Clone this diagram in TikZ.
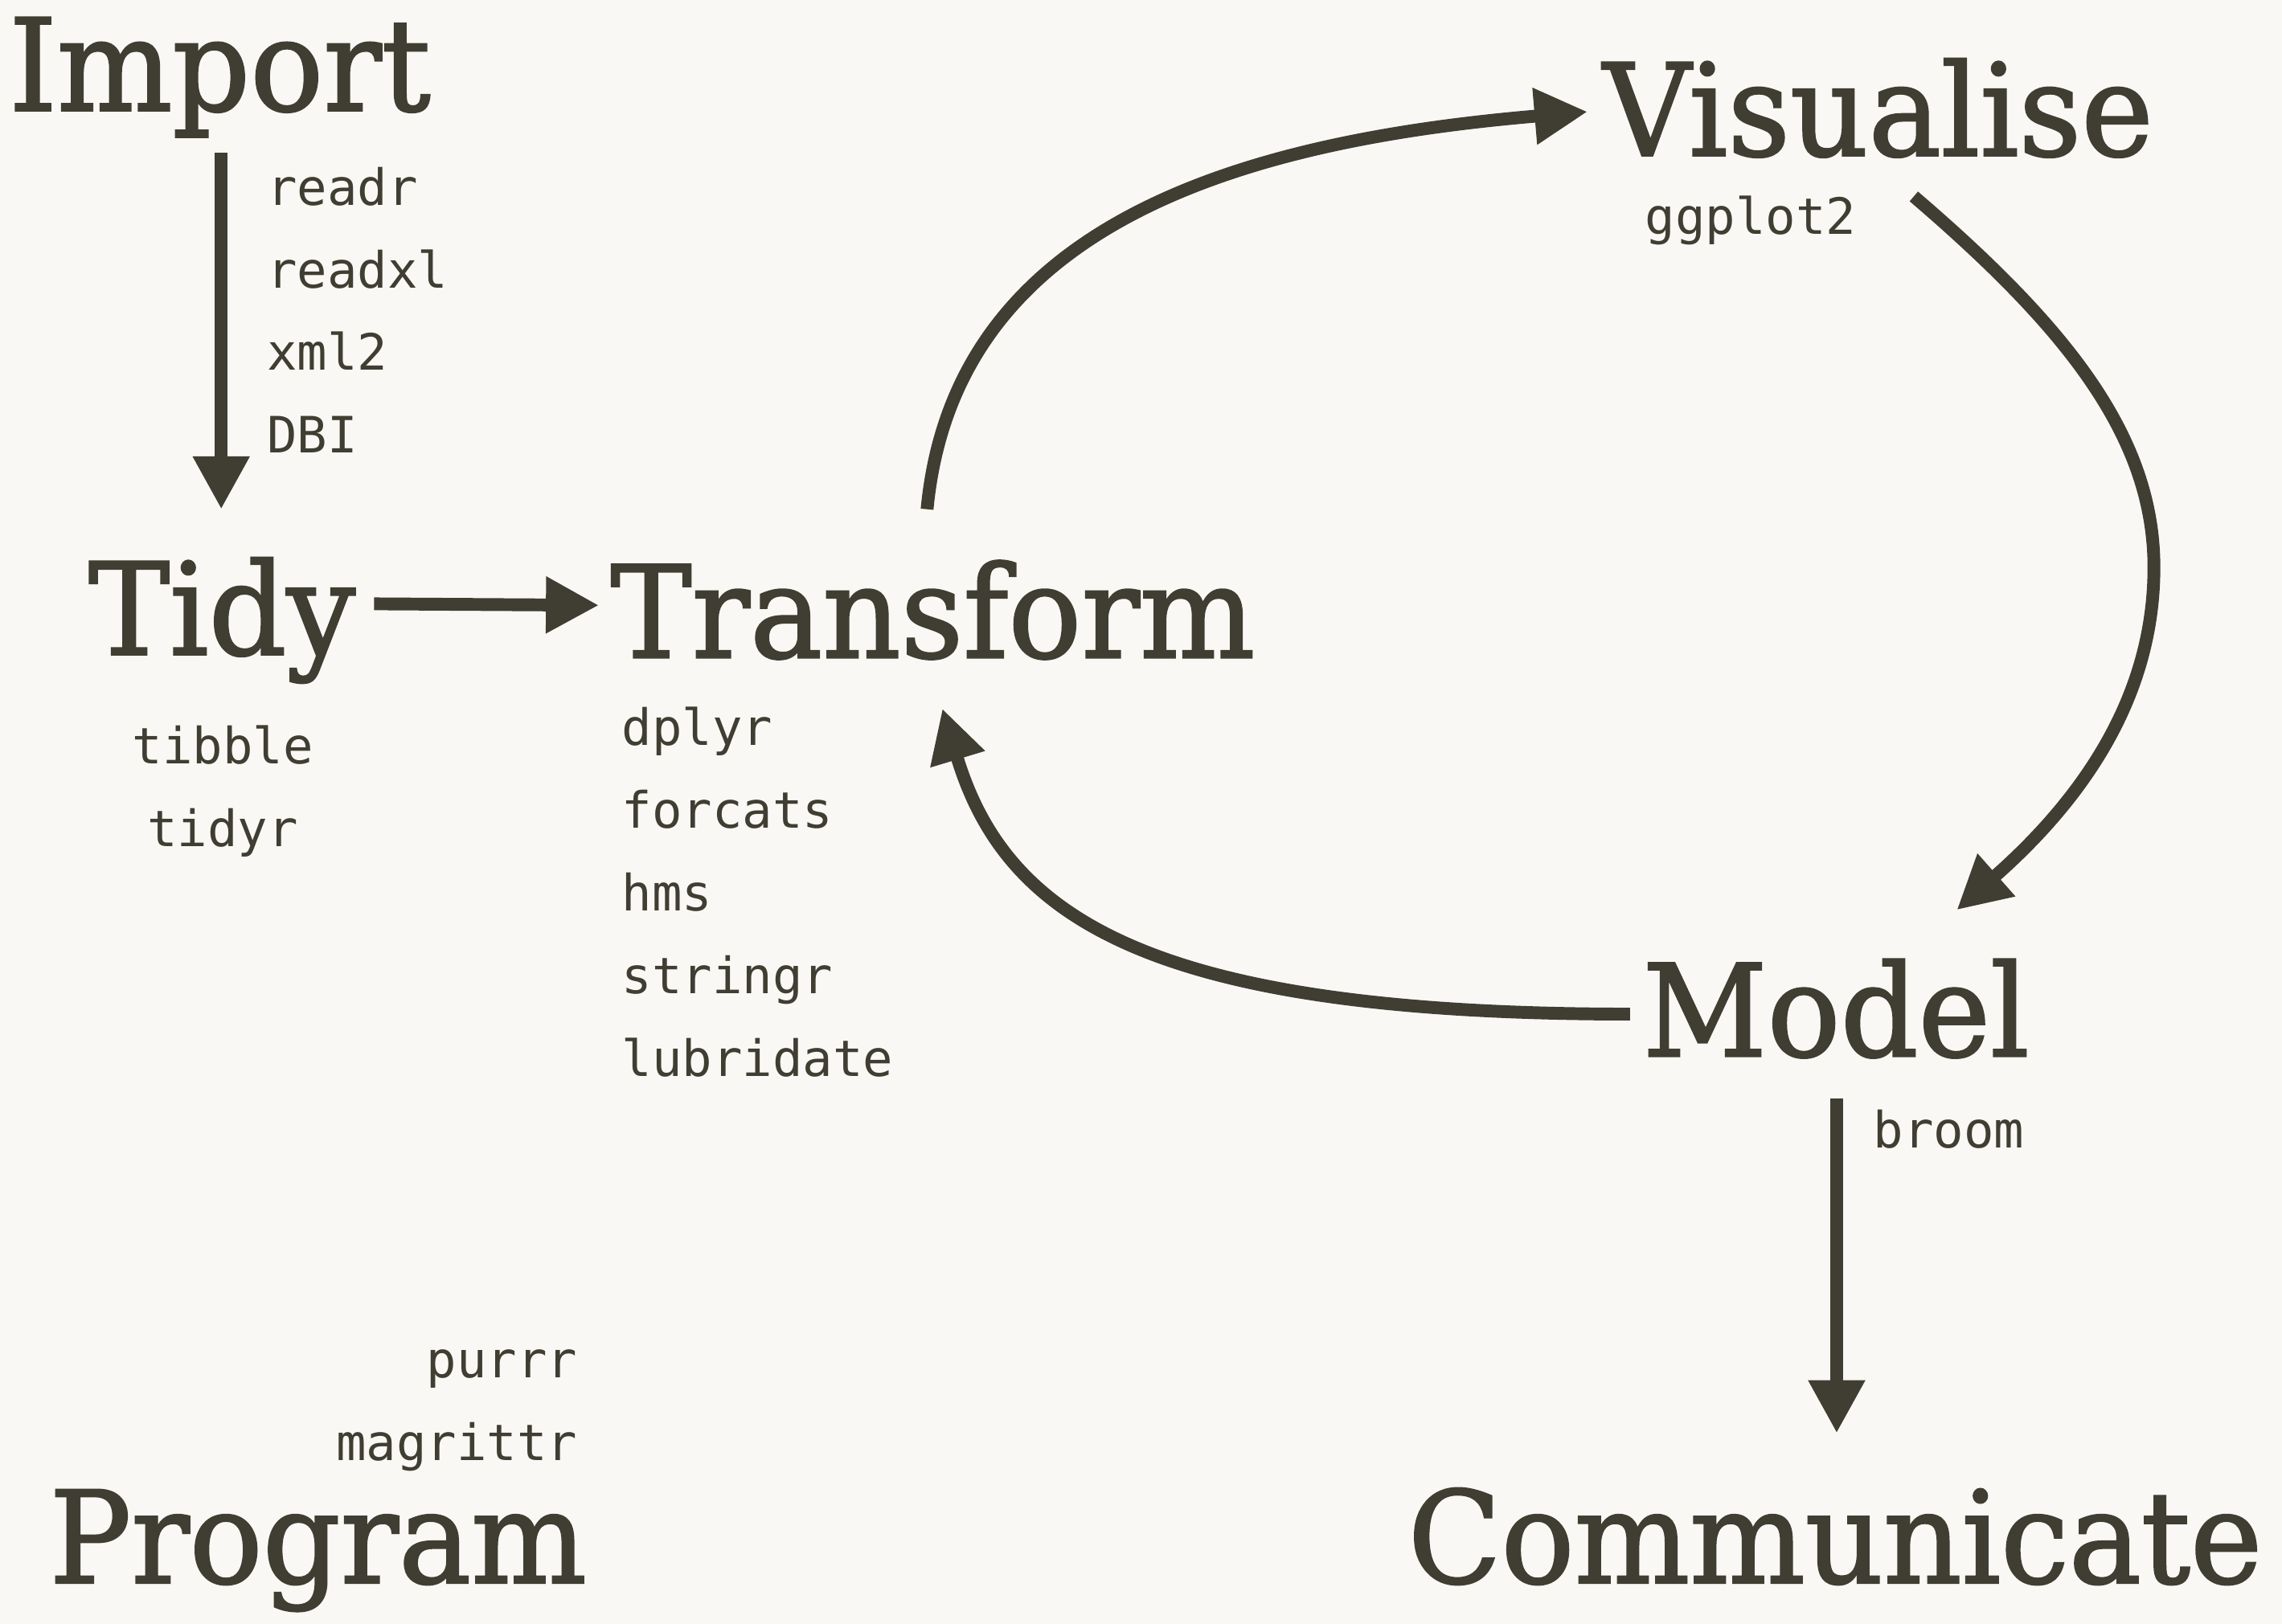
\documentclass[tikz,border=0pt]{standalone}
\usepackage{fontspec}
\usetikzlibrary{arrows.meta,calc}
\newfontfamily\headfont{DejaVu Serif}[FakeStretch=0.95,FakeBold=1.5]
\newfontfamily\codefont{DejaVu Sans Mono}
\definecolor{ink}{HTML}{403D32}
\definecolor{paper}{HTML}{F9F8F4}
\begin{document}
\begin{tikzpicture}[x=0.5pt,y=-0.5pt,
  head/.style={font=\headfont\fontsize{44}{44}\selectfont, text=ink, inner sep=0pt, anchor=base},
  code/.style={font=\codefont\fontsize{17.2}{17.2}\selectfont, text=ink, inner sep=0pt, anchor=base west},
  arr/.style={draw=ink, line width=4.4pt, -{Triangle[length=18.2pt,width=18.4pt]}}]
\fill[paper] (0,0) rectangle (1568,1116);
\useasboundingbox (0,0) rectangle (1568,1116);

% headings
\node[head] (import) at (151,76) {Import};
\node[head] (tidy) at (152.5,450) {Tidy};
\node[head] (transform) at (641,452) {Transform};
\node[head] (visualise) at (1290.5,107) {Visualise};
\node[head] (model) at (1261.5,726) {Model};
\node[head] (communicate) at (1261,1088) {Communicate};
\node[head] (program) at (218.5,1088) {Program};

% package labels
\node[code] (readr) at (183,141) {readr};
\node[code] (readxl) at (183,198) {readxl};
\node[code] (xml) at (183,254.5) {xml2};
\node[code] (dbi) at (183,311) {DBI};
\node[code,anchor=base] (tibble) at (153,525) {tibble};
\node[code,anchor=base] (tidyr) at (153,582) {tidyr};
\node[code] (dplyr) at (427,512) {dplyr};
\node[code] (forcats) at (427,569) {forcats};
\node[code] (hms) at (427,626) {hms};
\node[code] (stringr) at (427,683) {stringr};
\node[code] (lubridate) at (427,740) {lubridate};
\node[code] (ggplot) at (1130,161) {ggplot2};
\node[code] (broom) at (1287,789) {broom};
\node[code,anchor=base east] (purrr) at (397,947) {purrr};
\node[code,anchor=base east] (magrittr) at (397,1004) {magrittr};

% connectors
\draw[arr] ($(import.base)+(1,29)$) -- ($(tidy.base)+(-0.5,-100)$);
\draw[arr] ($(tidy.base)+(104.5,-35)$) -- ($(transform.base)+(-229.5,-36)$);
\draw[arr] ($(transform.base)+(-4,-102)$) .. controls (655,160) and (840,98) .. ($(visualise.base)+(-199.7,-30.2)$);
\draw[arr] ($(visualise.base)+(24.5,28)$) .. controls (1420,225) and (1480,300) .. (1480,390)
   .. controls (1480,480) and (1430,550) .. ($(model.base)+(83,-100.6)$);
\draw[arr] ($(model.base)+(-141.5,-29)$) .. controls (790,697) and (691,631) .. ($(transform.base)+(6.5,35)$);
\draw[arr] ($(model.base)+(0.5,29)$) -- ($(communicate.base)+(1,-103)$);
\end{tikzpicture}
\end{document}
